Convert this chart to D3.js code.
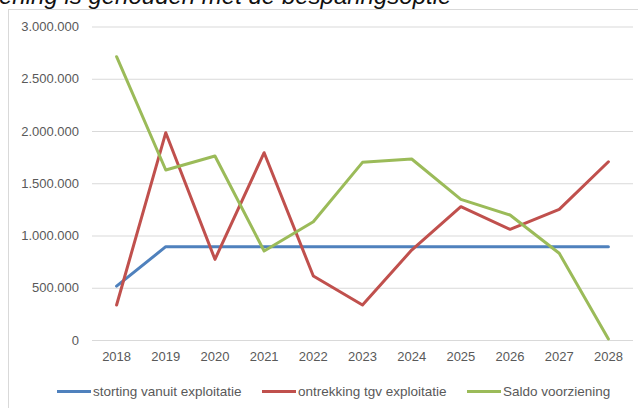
<!DOCTYPE html>
<html>
<head>
<meta charset="utf-8">
<script src="https://cdn.jsdelivr.net/npm/d3@7"></script>
<style>
  body { margin: 0; background: #fff; }
  svg { display: block; }
</style>
</head>
<body>
<div id="chart"></div>
<script>
// data
const years = ['2018', '2019', '2020', '2021', '2022', '2023', '2024', '2025', '2026', '2027', '2028'];
const storting = [515000, 893000, 893000, 893000, 893000, 893000, 893000, 893000, 893000, 893000, 893000];
const ontrekking = [335000, 1984000, 772000, 1792000, 612000, 335000, 861000, 1276000, 1059000, 1250000, 1706000];
const saldo = [2711000, 1627000, 1761000, 852000, 1132000, 1700000, 1732000, 1346000, 1196000, 830000, 10000];
const yTicks = [0, 500000, 1000000, 1500000, 2000000, 2500000, 3000000];
const seriesNames = ['storting vanuit exploitatie', 'ontrekking tgv exploitatie', 'Saldo voorziening'];
const seriesColors = ['#4F81BD', '#C0504D', '#9BBB59'];

const series = [storting, ontrekking, saldo].map((vals, i) => ({
  name: seriesNames[i], color: seriesColors[i], values: vals
}));

const W = 638, H = 408;
const margin = {top: 26.5, right: 5, bottom: 68, left: 92};

const svg = d3.select('#chart').append('svg')
    .attr('width', W)
    .attr('height', H);

// heading above the chart frame, cut off by the top of the page
svg.append('text')
    .attr('x', -1)
    .attr('y', 4)
    .attr('font-family', 'Liberation Sans, Arial, sans-serif')
    .attr('font-style', 'italic')
    .attr('font-size', 24)
    .attr('fill', '#111')
    .text('ening is gehouden met de besparingsoptie');

// chart frame (runs off the right and bottom edge)
svg.append('rect')
    .attr('x', 8.5)
    .attr('y', 9.5)
    .attr('width', 700)
    .attr('height', 500)
    .attr('fill', '#fff')
    .attr('stroke', '#d9d9d9');

const x = d3.scaleBand()
    .domain(years)
    .range([margin.left, W - margin.right]);

const y = d3.scaleLinear()
    .domain([0, 3000000])
    .range([H - margin.bottom, margin.top]);

const fmt = d3.formatLocale({decimal: ',', thousands: '.', grouping: [3], currency: ['€', '']}).format(',d');
const font = 'Liberation Sans, Arial, sans-serif';

// gridlines + y labels
const yAxis = svg.append('g')
    .attr('transform', `translate(${margin.left},0)`)
    .call(d3.axisLeft(y).tickValues(yTicks).tickFormat(fmt)
      .tickSize(-(W - margin.right - margin.left)).tickPadding(13));
yAxis.select('.domain').remove();
yAxis.selectAll('line').attr('stroke', '#d9d9d9');
yAxis.selectAll('text')
    .attr('font-family', font)
    .attr('font-size', 13)
    .attr('fill', '#595959');

// x labels
const xAxis = svg.append('g')
    .attr('transform', `translate(0,${H - margin.bottom})`)
    .call(d3.axisBottom(x).tickSize(0).tickPadding(12));
xAxis.select('.domain').remove();
xAxis.selectAll('text')
    .attr('font-family', font)
    .attr('font-size', 13)
    .attr('fill', '#595959');

const line = d3.line()
    .x((d, i) => x(years[i]) + x.bandwidth() / 2)
    .y(d => y(d));

svg.selectAll('.series')
    .data(series)
  .join('path')
    .attr('class', 'series')
    .attr('d', d => line(d.values))
    .attr('fill', 'none')
    .attr('stroke', d => d.color)
    .attr('stroke-width', 3)
    .attr('stroke-linejoin', 'round')
    .attr('stroke-linecap', 'round');

// legend
const legendX = [57, 262, 467];
const legend = svg.selectAll('.legend')
    .data(series)
  .join('g')
    .attr('class', 'legend')
    .attr('transform', (d, i) => `translate(${legendX[i]},391.5)`);
legend.append('line')
    .attr('x1', 0).attr('x2', 34)
    .attr('stroke', d => d.color)
    .attr('stroke-width', 3);
legend.append('text')
    .attr('x', 36)
    .attr('dy', '0.35em')
    .attr('font-family', font)
    .attr('font-size', 13.5)
    .attr('fill', '#595959')
    .text(d => d.name);
</script>
</body>
</html>
